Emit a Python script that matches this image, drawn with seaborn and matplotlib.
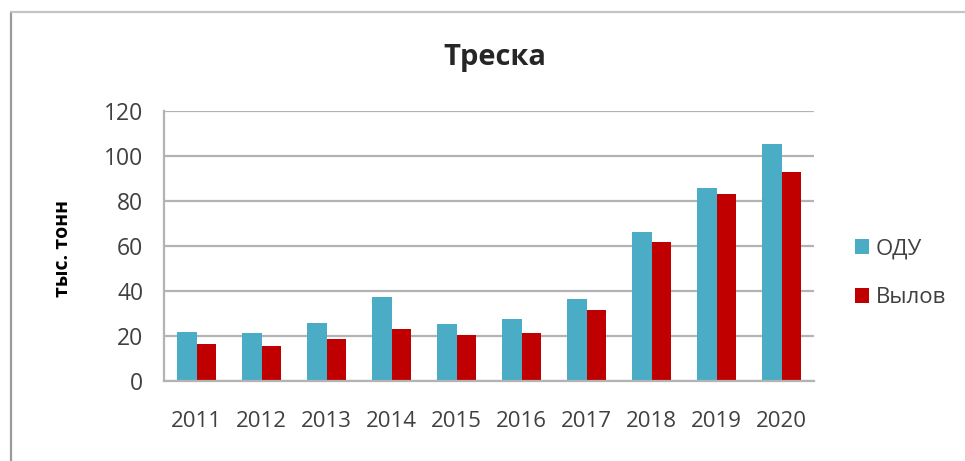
import matplotlib
matplotlib.use("Agg")
import matplotlib.pyplot as plt
from matplotlib.lines import Line2D
import seaborn as sns
import pandas as pd

# Cod: total allowable catch vs. actual catch, thousand tonnes
years = ["2011", "2012", "2013", "2014", "2015", "2016", "2017", "2018", "2019", "2020"]
odu = [21.8, 21.1, 25.8, 37.2, 25.2, 27.5, 36.2, 66.0, 85.6, 105.2]
catch = [16.2, 15.4, 18.4, 23.0, 20.3, 21.1, 31.6, 61.6, 83.0, 92.7]
series_names = ["ОДУ", "Вылов"]
y_ticks = [0, 20, 40, 60, 80, 100, 120]

df = pd.DataFrame({
    "year": years * 2,
    "value": odu + catch,
    "series": [series_names[0]] * len(years) + [series_names[1]] * len(years),
})

sns.set_style("white")
plt.rcParams["font.family"] = ["Open Sans", "DejaVu Sans"]

grid_col = "#b3b3b3"
text_col = "#404040"

fig = plt.figure(figsize=(9.65, 4.61), dpi=100)
ax = fig.add_axes([164 / 965, 1 - 380.7 / 461, 650 / 965, 269.7 / 461])

sns.barplot(
    data=df, x="year", y="value", hue="series", order=years,
    hue_order=series_names, palette=["#4BACC6", "#C00000"],
    width=0.585, saturation=1, linewidth=0, ax=ax, legend=True,
)

ax.set_ylim(0, 120)
ax.set_yticks(y_ticks)
ax.set_xlim(-0.5, len(years) - 0.5)
ax.yaxis.grid(True, color=grid_col, linewidth=1.6)
ax.set_axisbelow(True)
for side in ["top", "right"]:
    ax.spines[side].set_visible(False)
for side in ["left", "bottom"]:
    ax.spines[side].set_color(grid_col)
    ax.spines[side].set_linewidth(1.6)

ax.tick_params(axis="y", length=6, width=1.6, color=grid_col, pad=9,
               labelsize=16.5, labelcolor=text_col)
ax.tick_params(axis="x", length=0, pad=22, labelsize=16, labelcolor=text_col)
ax.set_xlabel("")
ax.set_ylabel("тыс. тонн", fontsize=14, fontweight="bold", color="black")
ax.yaxis.set_label_coords(-0.14, 0.49)

fig.suptitle("Треска", x=0.513, y=1 - 58 / 461, va="center",
             fontsize=21, fontweight="bold")

leg = ax.legend(
    loc="center left", bbox_to_anchor=(855 / 965, 1 - 273 / 461),
    bbox_transform=fig.transFigure, frameon=False, fontsize=16,
    handlelength=0.65, handleheight=0.65, handletextpad=0.3,
    labelspacing=1.25, borderpad=0, borderaxespad=0,
)
for t in leg.get_texts():
    t.set_color(text_col)

# outer chart frame
fig.add_artist(Line2D([11 / 965, 11 / 965], [0, 1 - 12 / 461],
                      transform=fig.transFigure, color="#9a9a9a", linewidth=1.6))
fig.add_artist(Line2D([11 / 965, 1], [1 - 12 / 461, 1 - 12 / 461],
                      transform=fig.transFigure, color="#c4c4c4", linewidth=1.6))

fig.savefig("out.png", dpi=100)
